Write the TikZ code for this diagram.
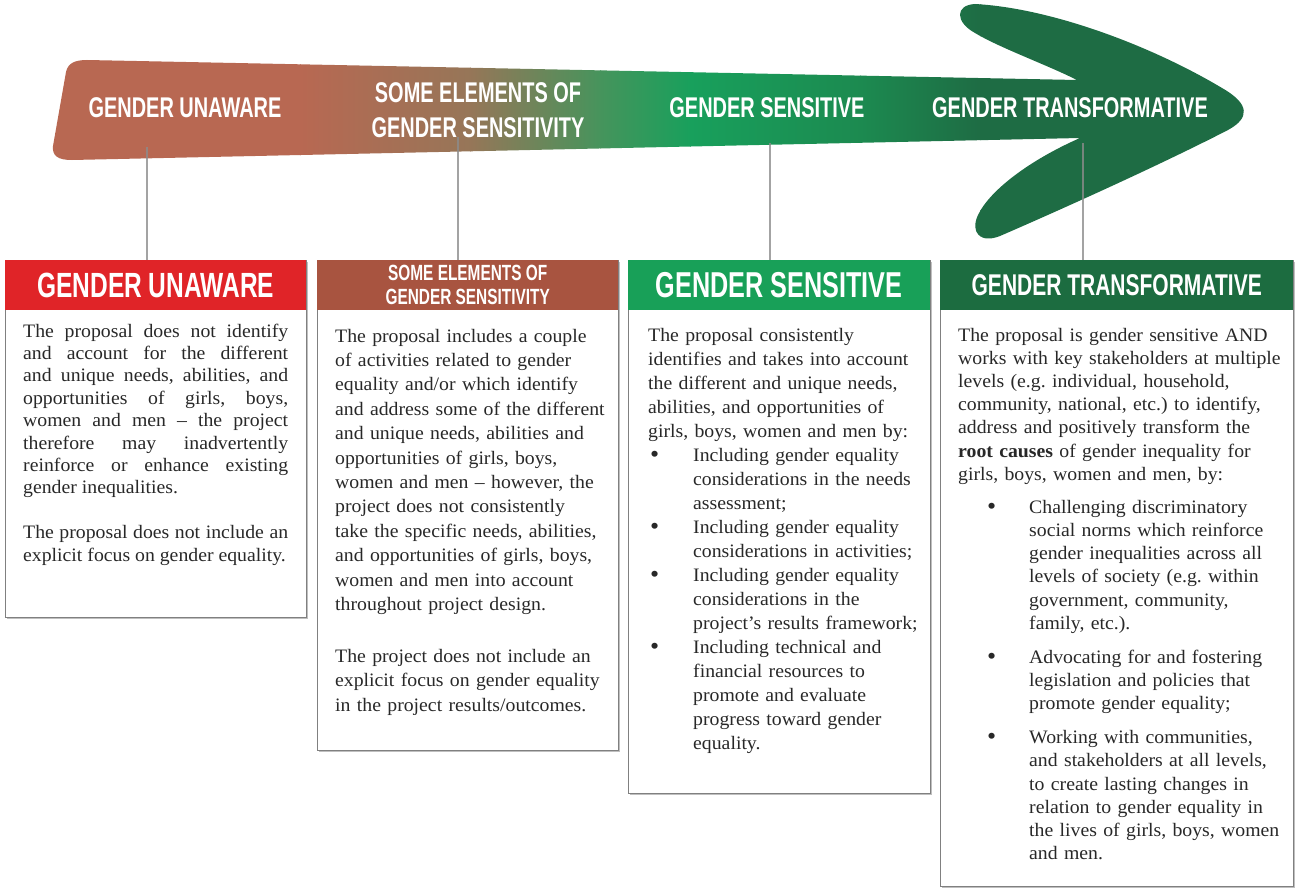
\documentclass[tikz,border=0pt]{standalone}
\usepackage{fontspec}
\setmainfont{Liberation Serif}[FakeStretch=1.04]
\newfontfamily\headfont{Liberation Sans}[UprightFont=* Bold, FakeStretch=0.7]
\usetikzlibrary{shadows}
\frenchspacing

% palette
\definecolor{brn}{RGB}{184,104,82}
\definecolor{olv}{RGB}{150,118,88}
\definecolor{grA}{RGB}{70,148,92}
\definecolor{grB}{RGB}{24,160,92}
\definecolor{grC}{RGB}{28,138,80}
\definecolor{grD}{RGB}{30,108,68}
\definecolor{hdrred}{RGB}{224,36,40}
\definecolor{hdrbrown}{RGB}{168,84,64}
\definecolor{hdrgreen}{RGB}{24,160,88}
\definecolor{hdrdark}{RGB}{28,108,64}
\definecolor{framegray}{RGB}{128,128,128}
\definecolor{conngray}{RGB}{140,140,140}
\definecolor{bodytext}{RGB}{40,40,40}

% bullet lines: offset of the bullet, then room before the item text
\newcommand\bulmark[2]{\hspace*{#1}\makebox[#2][l]{\raisebox{-1.3pt}{\fontsize{25}{25}\selectfont\textbullet}}}
\newcommand\contind[1]{\hspace*{#1}}

\tikzset{
  hdr/.style={anchor=north west, minimum height=50pt, inner sep=0pt,
    text=white, align=center},
  cardframe/.style={anchor=north west, draw=framegray, line width=1.2pt,
    fill=white, inner sep=0pt,
    drop shadow={shadow xshift=1.5pt, shadow yshift=-1.5pt, fill=black!25, opacity=1}},
  bodytxt/.style={anchor=base west, inner sep=0pt, text=bodytext, align=left},
  arrowlbl/.style={text=white, align=center, inner sep=0pt,
    font=\headfont\fontsize{28.5}{35}\selectfont},
  conn/.style={draw=conngray, line width=1.3pt, opacity=0.8},
}

\begin{document}
\begin{tikzpicture}[x=1pt,y=-1pt]
\useasboundingbox (0,0) rectangle (1295,888);

% ---------- the progression arrow ----------
\begin{scope}
  \clip (87,60) -- (1077,80)
    .. controls (1045,64) and (1000,48) .. (975,33)
    .. controls (955,22) and (955,5) .. (975,4)
    .. controls (1050,8) and (1150,45) .. (1222,88)
    .. controls (1250,104) and (1250,118) .. (1228,130)
    .. controls (1160,165) and (1060,210) .. (1000,236)
    .. controls (980,244) and (970,232) .. (978,215)
    .. controls (990,190) and (1030,160) .. (1080,138)
    -- (72,160)
    .. controls (58,160) and (52,156) .. (53,146)
    -- (66,72)
    .. controls (68,63) and (75,60) .. (87,60) -- cycle;
  \fill[brn] (40,0) rectangle (301,250);
  \shade[left color=brn, right color=olv] (300,0) rectangle (471,250);
  \shade[left color=olv, right color=grA] (470,0) rectangle (601,250);
  \shade[left color=grA, right color=grB] (600,0) rectangle (691,250);
  \shade[left color=grB, right color=grC] (690,0) rectangle (861,250);
  \shade[left color=grC, right color=grD] (860,0) rectangle (981,250);
  \fill[grD] (980,0) rectangle (1260,250);
\end{scope}

% labels on the arrow
\node[arrowlbl] (l1) at (185,108) {GENDER UNAWARE};
\node[arrowlbl] (l2) at (478,110) {SOME ELEMENTS OF\\GENDER SENSITIVITY};
\node[arrowlbl] (l3) at (767,108) {GENDER SENSITIVE};
\node[arrowlbl] (l4) at (1070,108) {GENDER TRANSFORMATIVE};

% anchor points on the arrow for the drop lines
\coordinate (a1) at (147,147);
\coordinate (a2) at (458,137);
\coordinate (a3) at (770,143);
\coordinate (a4) at (1083,143);

% ---------- cards ----------
\node[cardframe, minimum width=301pt, minimum height=357pt] (f1) at (5,260) {};
\node[cardframe, minimum width=301pt, minimum height=490pt] (f2) at (317,260) {};
\node[cardframe, minimum width=302pt, minimum height=533pt] (f3) at (628,260) {};
\node[cardframe, minimum width=353pt, minimum height=626pt] (f4) at (940,260) {};

\node[hdr, fill=hdrred, minimum width=301pt,
  font=\headfont\fontsize{35}{40}\selectfont] (h1) at (5,260) {GENDER UNAWARE};
\node[hdr, fill=hdrbrown, minimum width=301pt,
  font=\headfont\fontsize{22}{24}\selectfont] (h2) at (317,260) {SOME ELEMENTS OF\\GENDER SENSITIVITY};
\node[hdr, fill=hdrgreen, minimum width=302pt,
  font=\headfont\fontsize{36}{40}\selectfont] (h3) at (628,260) {GENDER SENSITIVE};
\node[hdr, fill=hdrdark, minimum width=353pt,
  font=\headfont\fontsize{30}{34}\selectfont] (h4) at (940,260) {GENDER TRANSFORMATIVE};

% drop lines from the arrow to the cards
\draw[conn] (a1) -- (a1 |- h1.north);
\draw[conn] (a2) -- (a2 |- h2.north);
\draw[conn] (a3) -- (a3 |- h3.north);
\draw[conn] (a4) -- (a4 |- h4.north);

% ---------- card texts ----------
\node[bodytxt, text width=265pt, align=justify,
  font=\fontsize{19}{22.4}\selectfont] (t1) at (23,337)
{\hbadness=10000 The proposal does not identify\linebreak
and account for the different\linebreak
and unique needs, abilities, and\linebreak
opportunities of girls, boys,\linebreak
women and men – the project\linebreak
therefore may inadvertently\linebreak
reinforce or enhance existing\linebreak
gender inequalities.\par\vspace{22.6pt}
The proposal does not include an\linebreak
explicit focus on gender equality.};

\node[bodytxt, text width=275pt,
  font=\fontsize{19}{24.4}\selectfont] (t2) at (335,342)
{The proposal includes a couple\\
of activities related to gender\\
equality and/or which identify\\
and address some of the different\\
and unique needs, abilities and\\
opportunities of girls, boys,\\
women and men – however, the\\
project does not consistently\\
take the specific needs, abilities,\\
and opportunities of girls, boys,\\
women and men into account\\
throughout project design.\\[27.6pt]
The project does not include an\\
explicit focus on gender equality\\
in the project results/outcomes.};

\node[bodytxt, text width=275pt,
  font=\fontsize{19}{24.0}\selectfont] (t3) at (648,341)
{The proposal consistently\\
identifies and takes into account\\
the different and unique needs,\\
abilities, and opportunities of\\
girls, boys, women and men by:\\
\bulmark{2pt}{43pt}Including gender equality\\
\contind{45pt}considerations in the needs\\
\contind{45pt}assessment;\\
\bulmark{2pt}{43pt}Including gender equality\\
\contind{45pt}considerations in activities;\\
\bulmark{2pt}{43pt}Including gender equality\\
\contind{45pt}considerations in the\\
\contind{45pt}project’s results framework;\\
\bulmark{2pt}{43pt}Including technical and\\
\contind{45pt}financial resources to\\
\contind{45pt}promote and evaluate\\
\contind{45pt}progress toward gender\\
\contind{45pt}equality.};

\node[bodytxt, text width=330pt,
  font=\fontsize{19}{23.2}\selectfont] (t4) at (958,341)
{The proposal is gender sensitive AND\\
works with key stakeholders at multiple\\
levels (e.g. individual, household,\\
community, national, etc.) to identify,\\
address and positively transform the\\
\textbf{root causes} of gender inequality for\\
girls, boys, women and men, by:\\[9.8pt]
\bulmark{29pt}{42pt}Challenging discriminatory\\
\contind{71pt}social norms which reinforce\\
\contind{71pt}gender inequalities across all\\
\contind{71pt}levels of society (e.g. within\\
\contind{71pt}government, community,\\
\contind{71pt}family, etc.).\\[10.8pt]
\bulmark{29pt}{42pt}Advocating for and fostering\\
\contind{71pt}legislation and policies that\\
\contind{71pt}promote gender equality;\\[10.8pt]
\bulmark{29pt}{42pt}Working with communities,\\
\contind{71pt}and stakeholders at all levels,\\
\contind{71pt}to create lasting changes in\\
\contind{71pt}relation to gender equality in\\
\contind{71pt}the lives of girls, boys, women\\
\contind{71pt}and men.};

\end{tikzpicture}
\end{document}
